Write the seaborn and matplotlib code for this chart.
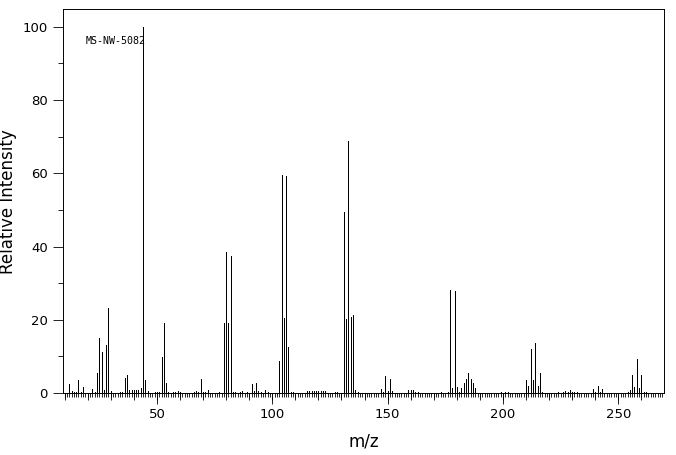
import pandas as pd
import matplotlib
matplotlib.use("Agg")
import matplotlib.pyplot as plt
import seaborn as sns

# m/z values and relative intensities
mz = [12, 13, 14, 15, 16, 17, 18, 22, 23, 24, 25, 26, 27, 28, 29, 30,
      34, 35, 36, 37, 38, 39, 40, 41, 42, 43, 44, 45, 46, 49, 50, 51,
      52, 53, 54, 55, 57, 58, 59, 60, 66, 67, 68, 69, 70, 71, 72, 77,
      79, 80, 81, 82, 83, 84, 86, 87, 89, 91, 92, 93, 94, 95, 97, 98,
      103, 104, 105, 106, 107, 108, 109, 115, 116, 117, 118, 119, 120, 121,
      122, 123, 127, 128, 131, 132, 133, 134, 135, 136, 137, 147, 148, 149,
      150, 151, 152, 159, 160, 161, 162, 163, 173, 176, 177, 178, 179, 180,
      181, 182, 183, 184, 185, 186, 187, 188, 199, 201, 202, 210, 211, 212,
      213, 214, 215, 216, 217, 224, 226, 227, 228, 229, 230, 231, 232, 239,
      240, 241, 242, 243, 254, 255, 256, 257, 258, 259, 260, 261, 262]
intensity = [2.5, 0.5, 0.4, 0.3, 3.6, 0.2, 1.6, 1.1, 0.2, 5.5, 15.0, 11.2, 0.8, 13.1, 23.2, 0.5,
             0.2, 0.2, 4.2, 4.9, 0.8, 0.8, 0.8, 0.8, 0.8, 1.3, 100.0, 3.6, 0.5, 0.3, 0.3, 0.3,
             9.8, 19.2, 2.8, 0.3, 0.3, 0.3, 0.6, 0.3, 0.3, 0.6, 0.3, 3.9, 0.3, 0.3, 0.9, 0.3,
             19.2, 38.5, 19.2, 37.5, 0.3, 0.3, 0.3, 0.6, 0.3, 2.5, 0.6, 2.7, 0.6, 0.3, 0.8, 0.3,
             8.6, 59.6, 20.6, 59.3, 12.6, 0.3, 0.3, 0.5, 0.5, 0.5, 0.5, 0.5, 0.5, 0.5,
             0.5, 0.5, 0.3, 0.3, 49.3, 20.2, 68.9, 20.8, 21.3, 0.9, 0.4, 1.1, 0.3, 4.6,
             0.5, 3.8, 0.5, 0.8, 0.8, 0.8, 0.3, 0.3, 0.3, 0.3, 28.1, 1.3, 27.9, 1.6,
             0.3, 1.4, 2.7, 3.8, 5.5, 3.8, 2.7, 1.4, 0.3, 0.3, 0.3, 3.6, 1.9, 12.0,
             3.6, 13.7, 1.9, 5.5, 0.3, 0.3, 0.3, 0.5, 0.3, 0.8, 0.3, 0.3, 0.3, 1.1,
             0.3, 1.9, 0.3, 1.1, 0.3, 0.8, 4.9, 1.6, 9.3, 1.4, 4.9, 0.3, 0.3]

x_major = [50, 100, 150, 200, 250]
x_mid = list(range(10, 270, 10))
x_minor = list(range(10, 270))
y_major = [0, 20, 40, 60, 80, 100]
y_minor = [10, 30, 50, 70, 90]

df = pd.DataFrame({"mz": mz, "intensity": intensity})

sns.set_style("ticks")
plt.rcParams["font.family"] = ["DejaVu Sans"]

fig = plt.figure(figsize=(6.76, 4.55), dpi=100)
ax = fig.add_axes([0.0936, 0.1363, 0.889, 0.8433])

ax.vlines(df["mz"], 0, df["intensity"], colors="black", linewidth=0.5,
          antialiased=False)

ax.set_xlim(9.4, 269.9)
ax.set_ylim(0, 104.8)

lw = 0.6
ax.set_xticks(x_major)
ax.set_xticks(x_minor, minor=True)
ax.set_yticks(y_major)
ax.set_yticks(y_minor, minor=True)
ax.tick_params(axis="x", which="major", length=8, width=lw, color="black",
               labelsize=9.5, pad=3, labelcolor="black")
ax.tick_params(axis="x", which="minor", length=3, width=lw, color="black")
ax.tick_params(axis="y", which="major", length=7, width=lw, color="black",
               labelsize=9.5, pad=4, labelcolor="black")
ax.tick_params(axis="y", which="minor", length=3.6, width=lw, color="black")

# medium ticks every 10 units
sec = ax.secondary_xaxis("bottom")
sec.set_xticks(x_mid)
sec.tick_params(length=5.2, width=lw, color="black", labelbottom=False)
sec.spines["bottom"].set_visible(False)

for s in ax.spines.values():
    s.set_visible(True)
    s.set_color("black")
    s.set_linewidth(0.7)

ax.set_xlabel("m/z", fontsize=12, labelpad=8, color="black")
ax.set_ylabel("Relative Intensity", fontsize=12, labelpad=4, color="black")

ax.text(0.038, 0.917, "MS-NW-5082", transform=ax.transAxes, fontsize=7.2,
        family="DejaVu Sans Mono", va="center", ha="left", color="black")

fig.savefig("out.png", dpi=100)
